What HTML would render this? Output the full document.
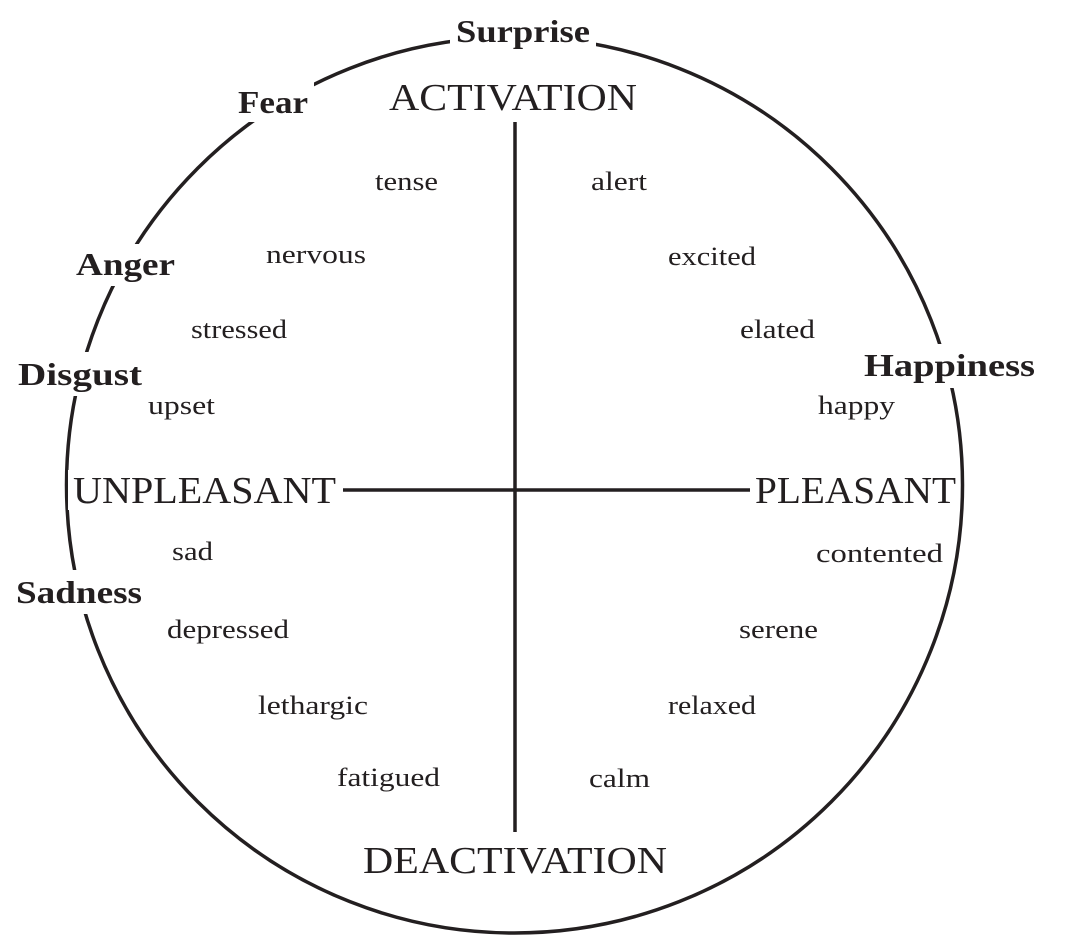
<!DOCTYPE html>
<html><head><style>html,body{margin:0;padding:0;background:#fff}svg{display:block}</style></head>
<body>
<svg width="1076" height="943" xmlns="http://www.w3.org/2000/svg" font-family="'Liberation Serif',serif" fill="#231f20">
<circle cx="514.5" cy="485" r="448" fill="none" stroke="#231f20" stroke-width="3.5"/>
<line x1="515" y1="122" x2="515" y2="832" stroke="#231f20" stroke-width="3.5"/>
<line x1="343" y1="490" x2="750" y2="490" stroke="#231f20" stroke-width="3.5"/>
<g fill="#fff">
<rect x="450" y="10" width="146" height="40"/>
<rect x="232" y="80" width="82" height="42"/>
<rect x="70" y="244" width="110" height="42"/>
<rect x="12" y="352" width="136" height="44"/>
<rect x="858" y="344" width="182" height="44"/>
<rect x="10" y="570" width="138" height="44"/>
<rect x="68" y="470" width="272" height="40"/>
<rect x="752" y="470" width="208" height="40"/>
</g>
<g font-weight="bold" font-size="32" lengthAdjust="spacingAndGlyphs">
<text x="456" y="42" textLength="134" lengthAdjust="spacingAndGlyphs">Surprise</text>
<text x="238" y="113" textLength="70" lengthAdjust="spacingAndGlyphs">Fear</text>
<text x="76" y="275" textLength="99" lengthAdjust="spacingAndGlyphs">Anger</text>
<text x="18" y="385" textLength="124" lengthAdjust="spacingAndGlyphs">Disgust</text>
<text x="864" y="376" textLength="171" lengthAdjust="spacingAndGlyphs">Happiness</text>
<text x="16" y="603" textLength="126" lengthAdjust="spacingAndGlyphs">Sadness</text>
</g>
<g font-size="38">
<text x="389" y="110" textLength="248" lengthAdjust="spacingAndGlyphs">ACTIVATION</text>
<text x="363" y="873" textLength="304" lengthAdjust="spacingAndGlyphs">DEACTIVATION</text>
<text x="73" y="503" textLength="263" lengthAdjust="spacingAndGlyphs">UNPLEASANT</text>
<text x="755" y="503" textLength="201" lengthAdjust="spacingAndGlyphs">PLEASANT</text>
</g>
<g font-size="26">
<text x="375" y="190" textLength="63" lengthAdjust="spacingAndGlyphs">tense</text>
<text x="591" y="190" textLength="56" lengthAdjust="spacingAndGlyphs">alert</text>
<text x="266" y="263" textLength="100" lengthAdjust="spacingAndGlyphs">nervous</text>
<text x="668" y="265" textLength="88" lengthAdjust="spacingAndGlyphs">excited</text>
<text x="191" y="338" textLength="96" lengthAdjust="spacingAndGlyphs">stressed</text>
<text x="740" y="338" textLength="75" lengthAdjust="spacingAndGlyphs">elated</text>
<text x="148" y="414" textLength="67" lengthAdjust="spacingAndGlyphs">upset</text>
<text x="818" y="414" textLength="77" lengthAdjust="spacingAndGlyphs">happy</text>
<text x="172" y="560" textLength="41" lengthAdjust="spacingAndGlyphs">sad</text>
<text x="816" y="562" textLength="127" lengthAdjust="spacingAndGlyphs">contented</text>
<text x="167" y="638" textLength="122" lengthAdjust="spacingAndGlyphs">depressed</text>
<text x="739" y="638" textLength="79" lengthAdjust="spacingAndGlyphs">serene</text>
<text x="258" y="714" textLength="110" lengthAdjust="spacingAndGlyphs">lethargic</text>
<text x="668" y="714" textLength="88" lengthAdjust="spacingAndGlyphs">relaxed</text>
<text x="337" y="786" textLength="103" lengthAdjust="spacingAndGlyphs">fatigued</text>
<text x="589" y="787" textLength="61" lengthAdjust="spacingAndGlyphs">calm</text>
</g>
</svg>
</body></html>
